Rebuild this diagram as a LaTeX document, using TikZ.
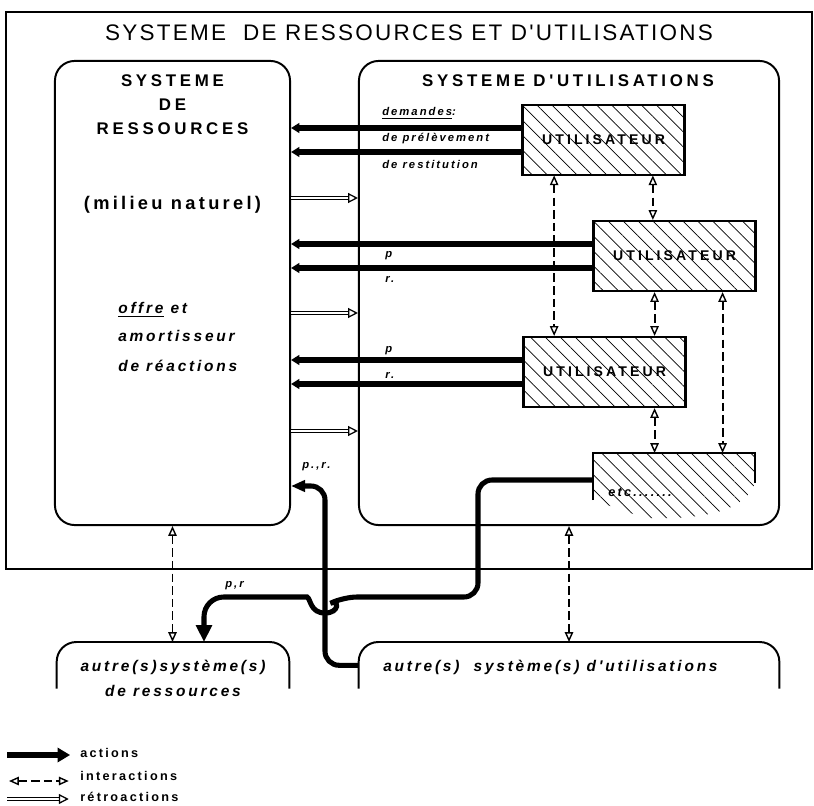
\documentclass[tikz,border=0pt]{standalone}
\usepackage{fontspec}
\setmainfont{Liberation Sans}
\newfontfamily\titlefont[LetterSpace=10]{Liberation Sans}
\newfontfamily\capsfont[LetterSpace=22]{Liberation Sans}
\newfontfamily\bodyfont[LetterSpace=18]{Liberation Sans}
\usetikzlibrary{arrows.meta,patterns.meta,positioning}

\begin{document}
\begin{tikzpicture}[x=0.025cm, y=-0.025cm,
    bigbox/.style={draw, line width=1.4pt, rounded corners=14pt, minimum height=11.6cm},
    user/.style={draw, line width=1.5pt, pattern={Lines[angle=-45, distance=7.5pt, line width=0.5pt]},
      minimum width=4.05cm, minimum height=1.75cm, inner sep=0pt, font=\capsfont\bfseries\fontsize{10}{12}\selectfont},
    caps/.style={font=\capsfont\bfseries\fontsize{12}{14}\selectfont},
    milieu/.style={font=\bodyfont\bfseries\fontsize{13}{15}\selectfont},
    body/.style={font=\bodyfont\bfseries\itshape\fontsize{11}{13}\selectfont, inner sep=0pt},
    lab/.style={font=\bodyfont\bfseries\itshape\fontsize{8}{10}\selectfont, anchor=base west, inner sep=0pt},
    leg/.style={font=\bodyfont\bfseries\fontsize{9}{11}\selectfont, anchor=west, inner sep=0pt},
    action/.style={line width=3.6pt, -{Triangle[length=6pt, width=7pt]}},
    inter/.style={line width=1.4pt, dash pattern=on 6pt off 3pt,
      {Triangle[open, length=7pt, width=6pt, line width=1pt]}-{Triangle[open, length=7pt, width=6pt, line width=1pt]}},
    retro/.style={double, double distance=1.6pt, line width=0.9pt, -{Triangle[open, length=7pt, width=7pt]}}]

  \useasboundingbox (0,0) rectangle (814,806);
  \draw[line width=1.3pt] (6,12) rectangle (812,569);
  \node[font=\titlefont\fontsize{16}{18}\selectfont] (title) at (409,33) {SYSTEME\ \ DE RESSOURCES ET D'UTILISATIONS};

  \node[bigbox, minimum width=5.875cm] (res) at (172.5,293) {};
  \node[bigbox, minimum width=10.5cm] (util) at (569,293) {};

  \node[caps] (rs1) at (172.5,81) {SYSTEME};
  \node[caps] (rs2) at (172.5,105) {DE};
  \node[caps] (rs3) at (172.5,129) {RESSOURCES};
  \node[milieu] (milieu) at (172.5,205) {(milieu naturel)};
  \node[body, anchor=base west] (offre) at (118,314) {\underline{offre} et};
  \node[body, anchor=base west] (amort) at (118,342) {amortisseur};
  \node[body, anchor=base west] (reac) at (118,371) {de réactions};

  \node[caps] (ut1) at (568,81) {SYSTEME D'UTILISATIONS};
  \node[lab] (dem) at (382,116) {\underline{demandes}:};
  \node[lab] (prel) at (382,142) {de prélèvement};
  \node[lab] (rest) at (382,169) {de restitution};
  \node[lab] (p2) at (385,258) {p};
  \node[lab] (r2) at (385,283) {r.};
  \node[lab] (p3) at (385,353) {p};
  \node[lab] (r3) at (385,378) {r.};
  \node[lab] (pr1) at (302,468) {p.,r.};
  \node[lab] (pr2) at (225,587) {p,r};

  \node[user] (u1) at (603.5,140) {UTILISATEUR};
  \node[user] (u2) at (674.5,256) {UTILISATEUR};
  \node[user] (u3) at (604.5,372) {UTILISATEUR};

  \coordinate (etcnw) at (593,453);
  \coordinate (etcw) at (593,480);
  \fill[pattern={Lines[angle=-45, distance=7.5pt, line width=0.5pt]}] (etcnw) -- (755,453) -- (755,483)
    .. controls (745,512) and (700,520) .. (645,518) -- (593,500) -- cycle;
  \draw[line width=1.5pt] (593,500) -- (etcnw) -- (755,453) -- (755,483);
  \node[lab, font=\bodyfont\bfseries\itshape\fontsize{9}{11}\selectfont] (etc) at (608,496) {etc.......};

  \node[minimum width=5.8cm, minimum height=1.15cm, anchor=north] (ores) at (173,642) {};
  \node[minimum width=10.5cm, minimum height=1.15cm, anchor=north] (outil) at (569,642) {};
  \draw[line width=1.4pt, rounded corners=14pt] (ores.south west) -- (ores.north west) -- (ores.north east) -- (ores.south east);
  \draw[line width=1.4pt, rounded corners=14pt] (outil.south west) -- (outil.north west) -- (outil.north east) -- (outil.south east);
  \node[body, anchor=base] (ores1) at (173,671) {autre(s)système(s)};
  \node[body, anchor=base] (ores2) at (173,696) {de ressources};
  \node[body, anchor=base west] (outil1) at (383,671) {autre(s)\ \ système(s)\ d'utilisations};

  \foreach \u in {u1,u2,u3} {
    \draw[action] ([yshift=0.3cm]\u.west) -- ([yshift=0.3cm]\u.west -| res.east);
    \draw[action] ([yshift=-0.3cm]\u.west) -- ([yshift=-0.3cm]\u.west -| res.east);
  }
  \foreach \y in {198,313,431}
    \draw[retro] (res.east |- 0,\y) -- (util.west |- 0,\y);

  \draw[inter] ([xshift=0.8cm]u1.south west) -- ([xshift=0.8cm]u1.south west |- u3.north);
  \draw[inter] ([xshift=-0.8cm]u1.south east) -- ([xshift=-0.8cm]u1.south east |- u2.north);
  \draw[inter] ([xshift=-0.8cm]u3.north east |- u2.south) -- ([xshift=-0.8cm]u3.north east);
  \draw[inter] ([xshift=-0.8cm]u3.south east) -- ([xshift=-0.8cm]u3.south east |- etcnw);
  \draw[inter] ([xshift=-0.85cm]u2.south east) -- ([xshift=-0.85cm]u2.south east |- etcnw);
  \draw[inter] (res.south) -- (res.south |- ores.north);
  \draw[inter] (util.south) -- (util.south |- outil.north);

  \draw[action, -{Triangle[length=10pt, width=8pt]}, rounded corners=10pt]
    (outil.west) -- (325,0 |- outil.west) -- (325,486) -- (res.east |- 0,486);
  \draw[action, -{Triangle[length=12pt, width=11pt]}]
    (etcw) [rounded corners=10pt] -- (478,480) -- (478,597) -- (343,597) [sharp corners]
    .. controls (339,599) and (340,613) .. (325,613) .. controls (310,613) and (311,599) .. (307,597)
    [rounded corners=14pt] -- (204,597) -- (204,0 |- ores.north);

  \coordinate (la) at (7,755);
  \coordinate (li) at (9,781);
  \coordinate (lr) at (7,799);
  \node[leg] (lact) at (80,753) {actions};
  \node[leg] (lint) at (80,776) {interactions};
  \node[leg] (lret) at (80,797) {rétroactions};
  \draw[action, -{Triangle[length=9pt, width=10pt]}] (la) -- ([xshift=-7pt]lact.west |- la);
  \draw[inter] (li) -- ([xshift=-8pt]lint.west |- li);
  \draw[retro] (lr) -- ([xshift=-8pt]lret.west |- lr);
\end{tikzpicture}
\end{document}
